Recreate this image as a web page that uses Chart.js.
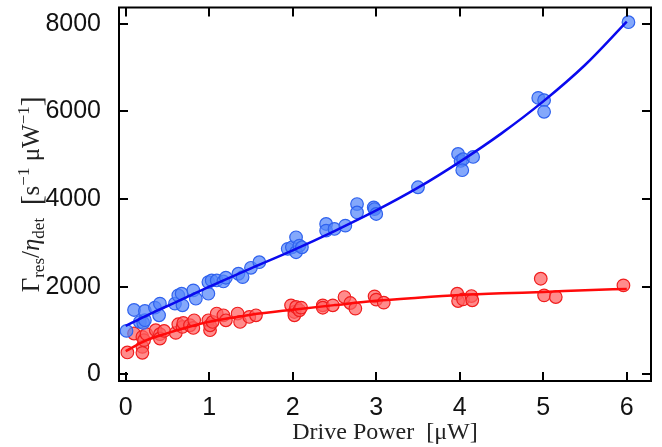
<!DOCTYPE html>
<html>
<head>
<meta charset="utf-8">
<script src="https://cdn.jsdelivr.net/npm/chart.js@4.4.1/dist/chart.umd.min.js"></script>
<style>
  html, body { margin: 0; padding: 0; background: #fff; }
  #wrap { width: 662px; height: 447px; }
</style>
</head>
<body>
<div id="wrap"><canvas id="fitChart"></canvas></div>
<script>
// measured points (drive power in uW, rate)
const blueX = [0.01, 0.10, 0.17, 0.21, 0.23, 0.23, 0.35, 0.41, 0.40, 0.59, 0.63, 0.67, 0.68, 0.81, 0.84,
  0.99, 0.99, 1.03, 1.09, 1.17, 1.20, 1.35, 1.40, 1.50, 1.60, 1.94, 1.99, 2.04, 2.04, 2.08, 2.11,
  2.40, 2.40, 2.50, 2.63, 2.77, 2.77, 2.97, 2.98, 3.00, 3.50, 3.98, 4.01, 4.04, 4.03, 4.16,
  4.94, 5.01, 5.01, 6.02];
const blueY = [991, 1469, 1196, 1173, 1235, 1446, 1523, 1614, 1348, 1614, 1802, 1841, 1575, 1916, 1727,
  1841, 2105, 2143, 2143, 2120, 2205, 2296, 2219, 2432, 2560, 2864, 2900, 3128, 2787, 2939, 2900,
  3432, 3280, 3318, 3394, 3887, 3696, 3810, 3773, 3660, 4270, 5030, 4871, 4910, 4660, 4962,
  6310, 6258, 5992, 8037];

const redX = [0.02, 0.10, 0.20, 0.20, 0.20, 0.22, 0.25, 0.36, 0.41, 0.41, 0.46, 0.60, 0.63, 0.68, 0.69,
  0.77, 0.81, 0.82, 0.99, 1.01, 1.01, 1.04, 1.09, 1.17, 1.20, 1.34, 1.37, 1.48, 1.56,
  1.98, 2.02, 2.02, 2.04, 2.08, 2.10, 2.36, 2.36, 2.48, 2.62, 2.69, 2.75, 2.98, 3.00, 3.09,
  3.97, 3.98, 4.04, 4.14, 4.15, 4.97, 5.01, 5.15, 5.96];
const redY = [500, 932, 855, 627, 491, 780, 916, 1007, 916, 818, 991, 946, 1143, 1082, 1173,
  1120, 1059, 1234, 1234, 1007, 1120, 1196, 1387, 1348, 1234, 1387, 1196, 1310, 1348,
  1575, 1423, 1348, 1537, 1462, 1523, 1575, 1520, 1575, 1764, 1628, 1500, 1780, 1705, 1636,
  1841, 1673, 1711, 1787, 1689, 2182, 1803, 1764, 2030];

// fit curves
const fitX = [0, 0.25, 0.5, 0.75, 1, 1.5, 2, 2.5, 3, 3.5, 4, 4.5, 5, 5.5, 6];
const blueFit = [1105, 1340, 1560, 1780, 2000, 2420, 2830, 3270, 3740, 4260, 4850, 5500, 6230, 7060, 8050];
const redFit = [530, 780, 940, 1080, 1200, 1360, 1475, 1580, 1680, 1750, 1810, 1850, 1880, 1920, 1950];

const xTicks = [0, 1, 2, 3, 4, 5, 6];
const yTicks = [0, 2000, 4000, 6000, 8000];

const pts = (xs, ys) => xs.map((x, i) => ({ x: x, y: ys[i] }));

const serif = '"Liberation Serif", "DejaVu Serif", serif';
const sans = '"Liberation Sans", Arial, sans-serif';

// inward tick marks on all four sides + frame
const frameTicks = {
    id: 'frameTicks',
    afterDraw(chart) {
        const c = chart.ctx, a = chart.chartArea;
        const sx = chart.scales.x, sy = chart.scales.y;
        const len = 9;
        c.save();
        c.strokeStyle = '#000';
        c.lineWidth = 2;
        c.beginPath();
        xTicks.forEach(v => {
            const p = Math.round(sx.getPixelForValue(v));
            c.moveTo(p, a.bottom); c.lineTo(p, a.bottom - len);
            c.moveTo(p, a.top); c.lineTo(p, a.top + len);
        });
        yTicks.forEach(v => {
            const p = Math.round(sy.getPixelForValue(v));
            c.moveTo(a.left, p); c.lineTo(a.left + len, p);
            c.moveTo(a.right, p); c.lineTo(a.right - len, p);
        });
        c.stroke();
        c.strokeRect(a.left, a.top, a.right - a.left, a.bottom - a.top);
        c.restore();
    }
};

// y axis title with sub/superscripts
const yTitle = {
    id: 'yTitle',
    afterDraw(chart) {
        const c = chart.ctx, a = chart.chartArea;
        const main = '25px ' + serif;
        const ital = 'italic 25px ' + serif;
        const small = '17px ' + serif;
        const big = '30px ' + serif;
        const parts = [
            { t: 'Γ', f: main, dy: 0 },
            { t: 'res', f: small, dy: 5 },
            { t: '/', f: main, dy: 0 },
            { t: 'η', f: ital, dy: 0 },
            { t: 'det', f: small, dy: 5 },
            { t: '  ', f: main, dy: 0 },
            { t: '[', f: big, dy: 2 },
            { t: 's', f: main, dy: 0 },
            { t: '−1', f: small, dy: -10 },
            { t: ' μW', f: main, dy: 0 },
            { t: '−1', f: small, dy: -10 },
            { t: ']', f: big, dy: 2 }
        ];
        c.save();
        let total = 0;
        parts.forEach(p => { c.font = p.f; p.w = c.measureText(p.t).width; total += p.w; });
        c.translate(30, (a.top + a.bottom) / 2);
        c.rotate(-Math.PI / 2);
        c.fillStyle = '#222';
        c.textBaseline = 'alphabetic';
        let u = -total / 2;
        parts.forEach(p => {
            c.font = p.f;
            c.fillText(p.t, u, 9 + p.dy);
            u += p.w;
        });
        c.restore();
    }
};

const ctx = document.getElementById('fitChart');
new Chart(ctx, {
    type: 'scatter',
    data: {
        datasets: [
            {
                type: 'line', data: pts(fitX, blueFit), borderColor: '#0a0aee', borderWidth: 2.5,
                pointRadius: 0, fill: false, cubicInterpolationMode: 'monotone', order: 0
            },
            {
                type: 'line', data: pts(fitX, redFit), borderColor: '#ff0a0a', borderWidth: 2.5,
                pointRadius: 0, fill: false, cubicInterpolationMode: 'monotone', order: 0
            },
            {
                data: pts(blueX, blueY), backgroundColor: 'rgba(85, 135, 250, 0.72)',
                borderColor: '#2f62ee', borderWidth: 1.2, pointRadius: 6.3, order: 1
            },
            {
                data: pts(redX, redY), backgroundColor: 'rgba(255, 95, 95, 0.72)',
                borderColor: '#f01e1e', borderWidth: 1.2, pointRadius: 6.3, order: 1
            }
        ]
    },
    options: {
        responsive: true,
        maintainAspectRatio: false,
        animation: false,
        layout: { padding: { left: 0, right: 11, top: 5, bottom: 0 } },
        scales: {
            x: {
                type: 'linear', min: -0.08, max: 6.29,
                afterBuildTicks: s => { s.ticks = xTicks.map(v => ({ value: v })); },
                afterFit: s => { s.height = 66; s.paddingLeft = 0; s.paddingRight = 0; },
                grid: { display: false },
                border: { display: false },
                ticks: { color: '#111', padding: 4, maxRotation: 0, font: { family: sans, size: 25 },
                    callback: v => String(v) },
                title: {
                    display: true, text: 'Drive Power  [μW]', color: '#222',
                    padding: { top: 0, bottom: 0 }, font: { family: serif, size: 24 }
                }
            },
            y: {
                type: 'linear', min: -152, max: 8373,
                afterBuildTicks: s => { s.ticks = yTicks.map(v => ({ value: v })); },
                afterFit: s => { s.width = 119; s.paddingTop = 0; s.paddingBottom = 0; },
                grid: { display: false },
                border: { display: false },
                ticks: { color: '#111', padding: 10, font: { family: sans, size: 25 },
                    callback: v => String(v) }
            }
        },
        plugins: {
            legend: { display: false },
            tooltip: { enabled: false }
        }
    },
    plugins: [frameTicks, yTitle]
});
</script>
</body>
</html>
